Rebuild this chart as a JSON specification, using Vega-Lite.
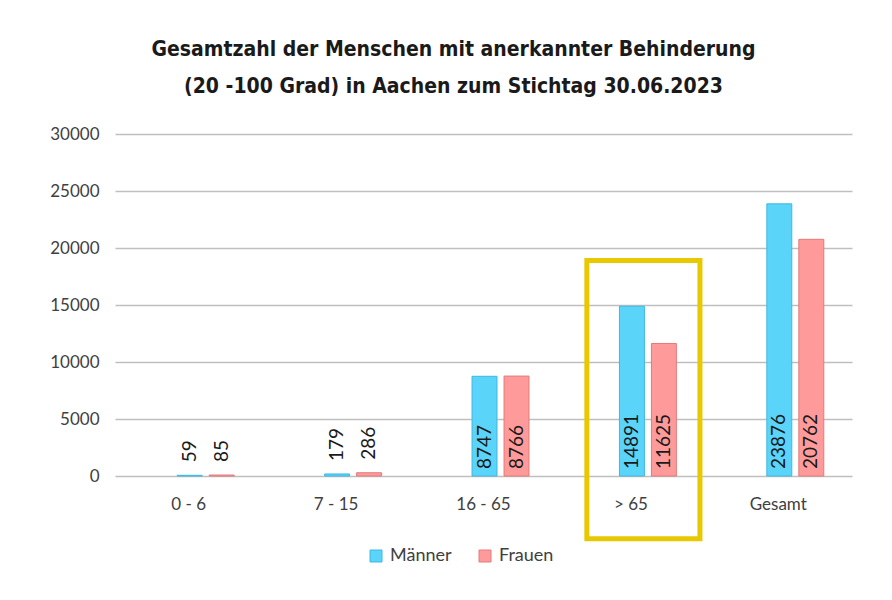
{
  "$schema": "https://vega.github.io/schema/vega-lite/v6.json",
  "width": 737,
  "height": 342,
  "autosize": {"type": "none"},
  "padding": {"left": 115, "top": 134, "right": 40, "bottom": 124},
  "background": "white",
  "title": {
    "text": ["Gesamtzahl der Menschen mit anerkannter Behinderung", "(20 -100 Grad) in Aachen zum Stichtag 30.06.2023"],
    "anchor": "middle",
    "frame": "group",
    "dx": -30,
    "offset": 28,
    "font": "Liberation Sans Narrow, DejaVu Sans Condensed, Liberation Sans",
    "fontSize": 21,
    "fontWeight": "bold",
    "lineHeight": 37,
    "color": "#1a1a1a"
  },
  "config": {
    "view": {"stroke": null},
    "font": "Lato",
    "axis": {"labelFont": "Lato", "labelColor": "#404040", "labelFontSize": 17},
    "legend": {"labelFont": "Lato", "labelColor": "#404040", "labelFontSize": 18}
  },
  "datasets": {
    "bars": [
      {"cat": "0 - 6", "gender": "Männer", "value": 59},
      {"cat": "0 - 6", "gender": "Frauen", "value": 85},
      {"cat": "7 - 15", "gender": "Männer", "value": 179},
      {"cat": "7 - 15", "gender": "Frauen", "value": 286},
      {"cat": "16 - 65", "gender": "Männer", "value": 8747},
      {"cat": "16 - 65", "gender": "Frauen", "value": 8766},
      {"cat": "> 65", "gender": "Männer", "value": 14891},
      {"cat": "> 65", "gender": "Frauen", "value": 11625},
      {"cat": "Gesamt", "gender": "Männer", "value": 23876},
      {"cat": "Gesamt", "gender": "Frauen", "value": 20762}
    ],
    "highlight": [
      {"cat": "> 65", "top": 18900, "bottom": -5500}
    ]
  },
  "layer": [
    {
      "data": {"name": "bars"},
      "mark": {"type": "bar", "strokeWidth": 1},
      "encoding": {
        "x": {
          "field": "cat", "type": "nominal", "sort": ["0 - 6", "7 - 15", "16 - 65", "> 65", "Gesamt"],
          "scale": {"paddingInner": 0.3, "paddingOuter": 0.15},
          "axis": {"title": null, "domain": false, "ticks": false, "labelAngle": 0, "labelPadding": 20}
        },
        "xOffset": {
          "field": "gender", "type": "nominal", "sort": ["Männer", "Frauen"],
          "scale": {"paddingInner": 0.22, "paddingOuter": 0.7225, "align": 0.868}
        },
        "y": {
          "field": "value", "type": "quantitative",
          "scale": {"domain": [0, 30000], "nice": false},
          "axis": {"title": null, "domain": false, "ticks": false, "values": [0, 5000, 10000, 15000, 20000, 25000, 30000], "format": "d", "labelPadding": 16, "gridColor": "#BFBFBF", "gridWidth": 1.5}
        },
        "color": {
          "field": "gender", "type": "nominal", "sort": ["Männer", "Frauen"],
          "scale": {"domain": ["Männer", "Frauen"], "range": ["#5BD4FA", "#FF9A9A"]},
          "legend": {"title": null, "orient": "none", "direction": "horizontal", "legendX": 252, "legendY": 413, "symbolType": "square", "symbolSize": 144, "symbolStrokeWidth": 1, "columnPadding": 24, "labelOffset": 5, "padding": 0}
        },
        "stroke": {
          "field": "gender", "type": "nominal",
          "scale": {"domain": ["Männer", "Frauen"], "range": ["#3CB8E2", "#E37A7A"]},
          "legend": null
        }
      }
    },
    {
      "data": {"name": "bars"},
      "transform": [{"filter": "datum.value >= 1000"}],
      "mark": {"type": "text", "angle": 270, "align": "left", "baseline": "middle", "dx": 7, "font": "Lato", "fontSize": 19, "color": "#1a1a1a"},
      "encoding": {
        "x": {"field": "cat", "type": "nominal", "sort": ["0 - 6", "7 - 15", "16 - 65", "> 65", "Gesamt"]},
        "xOffset": {"field": "gender", "type": "nominal", "sort": ["Männer", "Frauen"]},
        "y": {"datum": 0, "type": "quantitative"},
        "text": {"field": "value", "type": "quantitative", "format": "d"}
      }
    },
    {
      "data": {"name": "bars"},
      "transform": [{"filter": "datum.value < 1000"}],
      "mark": {"type": "text", "angle": 270, "align": "left", "baseline": "middle", "dx": 13, "font": "Lato", "fontSize": 19, "color": "#1a1a1a"},
      "encoding": {
        "x": {"field": "cat", "type": "nominal", "sort": ["0 - 6", "7 - 15", "16 - 65", "> 65", "Gesamt"]},
        "xOffset": {"field": "gender", "type": "nominal", "sort": ["Männer", "Frauen"]},
        "y": {"field": "value", "type": "quantitative"},
        "text": {"field": "value", "type": "quantitative", "format": "d"}
      }
    },
    {
      "data": {"name": "highlight"},
      "mark": {"type": "bar", "fill": null, "fillOpacity": 0, "stroke": "#E8C900", "strokeWidth": 5, "width": {"band": 1.096}, "xOffset": 12.5, "clip": false},
      "encoding": {
        "x": {"field": "cat", "type": "nominal", "sort": ["0 - 6", "7 - 15", "16 - 65", "> 65", "Gesamt"]},
        "y": {"field": "top", "type": "quantitative"},
        "y2": {"field": "bottom"}
      }
    }
  ]
}
